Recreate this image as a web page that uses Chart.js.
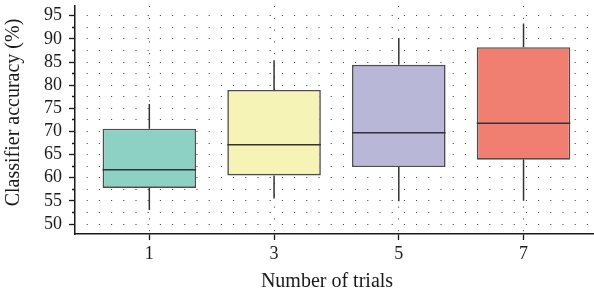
<!DOCTYPE html>
<html>
<head>
<meta charset="utf-8">
<script src="https://cdn.jsdelivr.net/npm/chart.js@4/dist/chart.umd.min.js"></script>
<style>
html,body{margin:0;padding:0;background:#fff;}
#wrap{width:594px;height:299px;position:relative;}
</style>
</head>
<body>
<div id="wrap"><canvas id="c"></canvas></div>
<script>
// ---- data ----
const categories = [1, 3, 5, 7];
const whiskerLow = [53.0, 55.5, 54.9, 55.0];
const q1 = [57.8, 60.5, 62.3, 63.9];
const median = [61.7, 67.1, 69.7, 71.75];
const q3 = [70.6, 78.95, 84.4, 88.2];
const whiskerHigh = [75.9, 85.4, 90.2, 93.3];
const yTickValues = [50, 52.5, 55, 57.5, 60, 62.5, 65, 67.5, 70, 72.5, 75, 77.5, 80, 82.5, 85, 87.5, 90, 92.5, 95];
const yLabelValues = [50, 55, 60, 65, 70, 75, 80, 85, 90, 95];
const xTickValues = [1, 3, 5, 7];

// ---- build library tables ----
const boxHalf = 0.75; // half box width in x units
const medianPts = [];
categories.forEach((c, i) => {
  medianPts.push({x: c - boxHalf, y: median[i]}, {x: c + boxHalf, y: median[i]}, {x: c + boxHalf, y: null});
});
const whiskerPts = [];
categories.forEach((c, i) => {
  whiskerPts.push({x: c, y: whiskerLow[i]}, {x: c, y: q1[i]}, {x: c, y: null},
                  {x: c, y: q3[i]}, {x: c, y: whiskerHigh[i]}, {x: c, y: null});
});
const boxPts = categories.map((c, i) => ({x: c, y: [q1[i], q3[i]]}));

const serif = 'Liberation Serif';
const ink = '#1a1a1a';
const isMajor = c => c.tick && yLabelValues.includes(c.tick.value);

new Chart(document.getElementById('c'), {
  type: 'bar',
  data: {
    datasets: [
      {type: 'line', data: medianPts, borderColor: '#333', borderWidth: 1.5, pointRadius: 0, spanGaps: false, order: 0},
      {type: 'bar', data: boxPts,
       backgroundColor: ['#8DD0C4', '#F5F4B6', '#B9B7D7', '#F07E71'],
       borderColor: '#4d4d4d', borderWidth: 1.6, borderSkipped: false,
       barPercentage: 0.75, categoryPercentage: 1, grouped: false, order: 1},
      {type: 'line', data: whiskerPts, borderColor: '#333', borderWidth: 1.5, pointRadius: 0, spanGaps: false, order: 2}
    ]
  },
  options: {
    responsive: true,
    maintainAspectRatio: false,
    devicePixelRatio: 1,
    animation: false,
    layout: {padding: {top: 6, left: 0, right: 0, bottom: 0}},
    plugins: {legend: {display: false}, tooltip: {enabled: false}},
    scales: {
      x: {
        type: 'linear', min: -0.192, max: 8.13, offset: false,
        afterBuildTicks: s => { s.ticks = xTickValues.map(v => ({value: v})); },
        afterFit: s => { s.height = 65; s.paddingLeft = 0; s.paddingRight = 0; },
        border: {display: true, color: ink, width: 1.5, dash: [1, 10.8], dashOffset: 0},
        grid: {offset: false, color: '#333', lineWidth: 1, drawTicks: true, tickLength: 6,
               tickColor: ink, tickWidth: 1.3, tickBorderDash: []},
        ticks: {autoSkip: false, maxRotation: 0, padding: 3, color: ink, font: {family: serif, size: 18},
                callback: v => String(v)},
        title: {display: true, text: 'Number of trials   ', color: ink, font: {family: serif, size: 20},
                padding: {top: 0, bottom: 5}}
      },
      y: {
        type: 'linear', min: 47.84, max: 97.1,
        afterBuildTicks: s => { s.ticks = yTickValues.map(v => ({value: v})); },
        afterFit: s => { s.width = 75; s.paddingTop = 0; s.paddingBottom = 0; },
        border: {display: true, color: ink, width: 1.5, dash: [1, 11.2], dashOffset: 1},
        grid: {color: '#333', lineWidth: 1,
               drawTicks: true, tickLength: 6, tickColor: ink, tickWidth: 1.3,
               tickBorderDash: c => isMajor(c) ? [] : [3, 3],
               tickBorderDashOffset: c => isMajor(c) ? 0 : 3},
        ticks: {autoSkip: false, padding: 7, color: ink, font: {family: serif, size: 18},
                callback: v => yLabelValues.includes(v) ? String(v) : ''},
        title: {display: true, text: '   Classifier accuracy (%)', color: ink, font: {family: serif, size: 20},
                padding: {top: 2, bottom: 0}}
      }
    }
  }
});
</script>
</body>
</html>
